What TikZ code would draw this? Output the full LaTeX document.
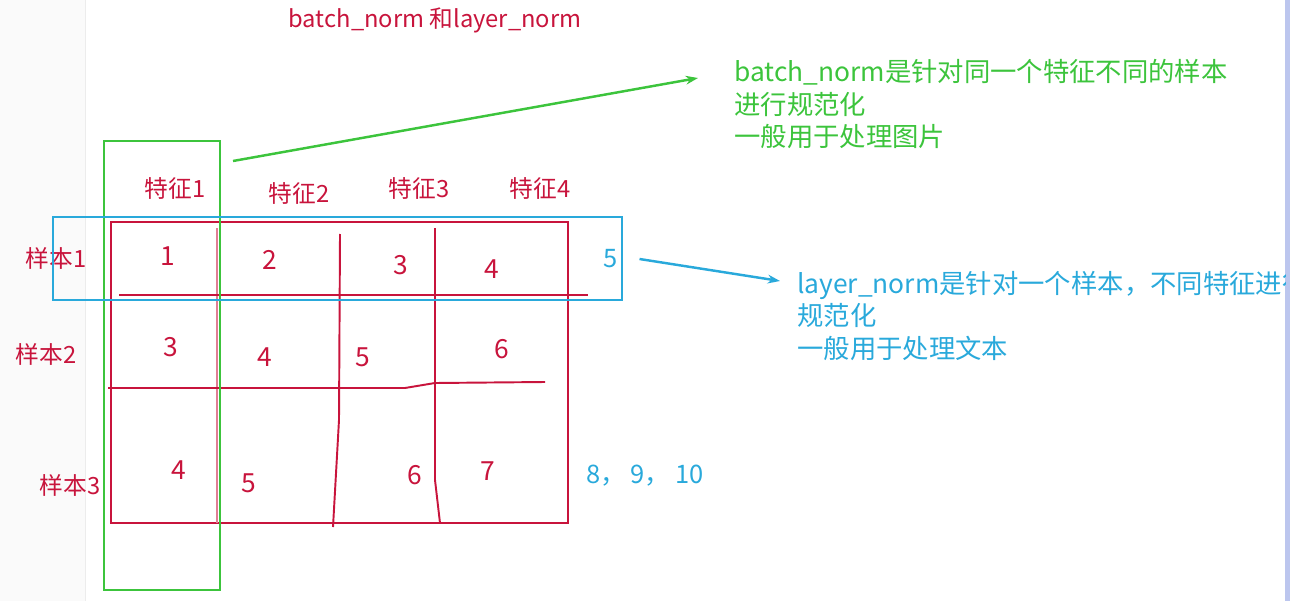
\documentclass[tikz,border=0pt]{standalone}
\usepackage{fontspec}
\setmainfont{Noto Sans CJK SC}
\usetikzlibrary{positioning,arrows.meta}
\definecolor{inkred}{HTML}{C8143C}
\definecolor{inkgreen}{HTML}{3CC43C}
\definecolor{inkblue}{HTML}{29A9DB}
\definecolor{edgeblue}{HTML}{BCC6EE}

\begin{document}
\begin{tikzpicture}[
    x=0.02cm,y=-0.02cm,>={Stealth[length=7pt,width=5pt]},
    lbl/.style={inner sep=0pt,text=inkred,font=\fontsize{13.5}{16}\selectfont},
    num/.style={inner sep=0pt,text=inkred,font=\fontsize{15}{16}\selectfont},
    bluenum/.style={inner sep=0pt,text=inkblue,font=\fontsize{14.5}{16}\selectfont},
    note/.style={inner sep=0pt,anchor=west,align=left,font=\fontsize{15}{18.5}\selectfont},
    pen/.style={inkred,line width=1.1pt},
    thinpen/.style={inkred!55,line width=0.8pt}
]
    \useasboundingbox (0,0) rectangle (1290,601);
    %Page
    \fill[gray!4] (0,0) rectangle (85,601);
    \draw[gray!15] (85,0) -- (85,601);
    \fill[edgeblue] (1285,0) rectangle (1290,601);

    %Title
    \node[lbl] (title) at (435,20) {batch\_norm 和layer\_norm};

    %Features
    \node[lbl] (f1) at (175,188) {特征1};
    \node[lbl] (f2) at (299,193) {特征2};
    \node[lbl] (f3) at (419,188) {特征3};
    \node[lbl] (f4) at (540,188) {特征4};
    %Samples
    \node[lbl] (s1) at (56,258) {样本1};
    \node[lbl] (s2) at (46,354) {样本2};
    \node[lbl] (s3) at (70,485) {样本3};

    %Grid
    \draw[pen] (111,222) rectangle (568,523);
    \draw[thinpen] (217,228) -- (217,523);
    \draw[pen] (340,234) -- (339,420) -- (333,527);
    \draw[pen] (435,228) -- (435,480) -- (440,523);
    \draw[pen] (119,295) -- (588,295);
    \draw[pen] (108,388) -- (405,388) -- (435,383) -- (545,382);

    %Values
    \node[num] (v11) at (168,256) {1};
    \node[num] (v12) at (270,260) {2};
    \node[num] (v13) at (401,265) {3};
    \node[num] (v14) at (492,269) {4};
    \node[num] (v21) at (171,347) {3};
    \node[num] (v22) at (265,357) {4};
    \node[num] (v23) at (363,357) {5};
    \node[num] (v24) at (502,349) {6};
    \node[num] (v31) at (179,470) {4};
    \node[num] (v32) at (249,483) {5};
    \node[num] (v33) at (415,475) {6};
    \node[num] (v34) at (488,471) {7};
    \node[bluenum] (x1) at (611,259) {5};
    \node[bluenum] (x3) at (645,476) {8，\hspace{0.2em}9，\hspace{0.2em}10};

    %Boxes
    \draw[inkgreen,line width=1.2pt] (104,141) rectangle (220,590);
    \draw[inkblue,line width=1.2pt] (53,217) rectangle (622,300);

    %Notes
    \node[note,text=inkgreen] (bnote) at (734,104)
        {batch\_norm是针对同一个特征不同的样本\\进行规范化\\一般用于处理图片};
    \begin{scope}
        \clip (0,0) rectangle (1285,601);
        \node[note,text=inkblue] (lnote) at (797,316)
            {layer\_norm是针对一个样本，不同特征进行\\规范化\\一般用于处理文本};
    \end{scope}

    %Arrows
    \coordinate (gtail) at (233,161);
    \coordinate (gtip) at (698,78);
    \draw[->,inkgreen,line width=1.4pt] (gtail) -- (gtip);
    \coordinate (btip) at (780,281);
    \draw[->,inkblue,line width=1.4pt] ([xshift=12pt]x1.east) -- (btip);
\end{tikzpicture}
\end{document}
